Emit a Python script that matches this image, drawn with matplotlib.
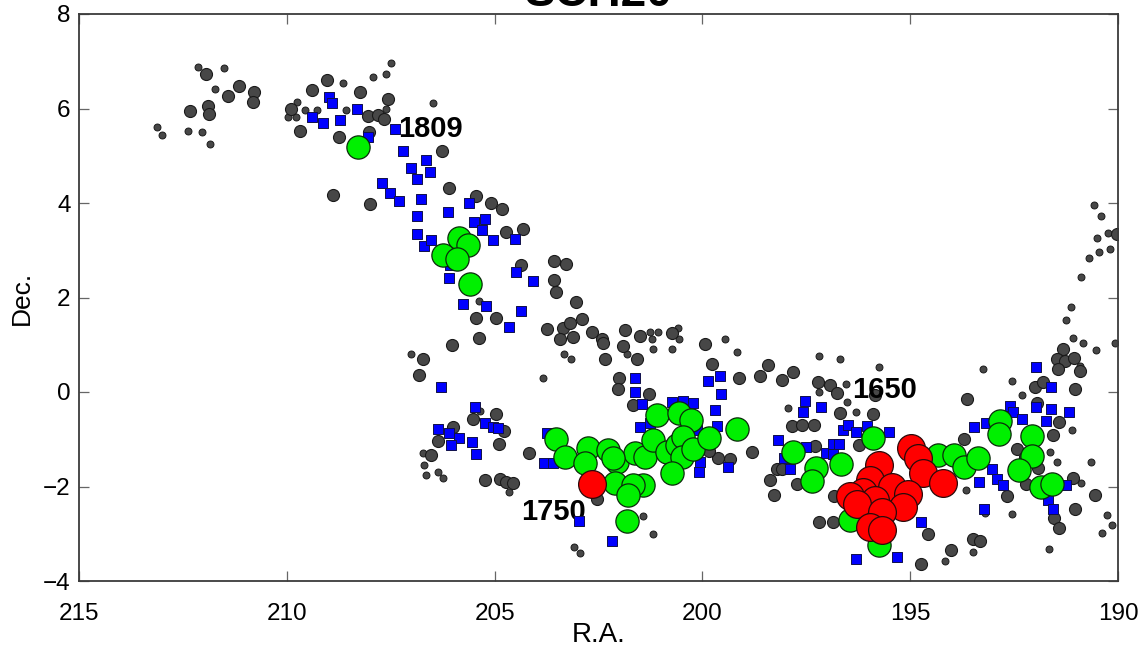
import matplotlib
matplotlib.use("Agg")
import matplotlib.pyplot as plt

plt.rcParams['font.family'] = ['Liberation Sans', 'DejaVu Sans']

# ---------------- data (R.A., Dec.) ----------------
grey_big_ra = [211.94, 211.15, 211.42, 210.79, 210.81, 212.33, 211.90, 211.87, 209.90, 209.68,
               209.39, 209.03, 208.24, 208.05, 207.81, 207.66, 207.57, 208.74, 208.02, 206.27,
               208.89, 208.00, 206.10, 205.45, 205.09, 204.82, 204.32, 204.73, 204.37, 203.57,
               203.28, 203.57, 203.52, 203.04, 205.45, 204.97, 205.38, 206.03, 206.72, 206.82,
               203.74, 203.35, 203.19, 202.89, 203.43, 203.11, 202.66, 202.42, 202.39, 201.86,
               201.50, 200.73, 202.35, 201.91, 201.57, 199.94, 199.77, 199.12, 198.61, 198.42,
               202.01, 202.03, 201.29, 204.97, 205.52, 206.00, 204.77, 206.36, 204.89, 206.53,
               205.23, 204.87, 204.73, 204.56, 204.17, 201.67, 199.34, 199.62, 198.81, 199.84,
               198.37, 198.28, 198.20, 202.54, 198.08, 197.82, 197.22, 196.93, 196.76,
               195.85, 196.69, 195.90, 197.84, 197.60, 197.31, 196.23, 197.29, 198.08, 197.72,
               196.83, 197.19, 196.86, 194.57, 194.74, 194.02, 193.49, 193.32, 192.67, 191.99,
               191.80, 193.63, 191.95, 191.42, 191.56, 192.43, 192.24, 191.92, 193.71, 192.21,
               191.08, 191.03, 191.54, 191.42, 190.55, 191.32, 191.47, 191.28, 191.06, 190.91,
               191.44, 191.03, 190.03]
grey_big_dec = [6.74, 6.47, 6.26, 6.34, 6.13, 5.94, 6.05, 5.88, 5.98, 5.52,
                6.39, 6.60, 6.34, 5.84, 5.86, 5.77, 6.20, 5.39, 5.50, 5.11,
                4.16, 3.97, 4.31, 4.14, 4.01, 3.87, 3.46, 3.38, 2.68, 2.77,
                2.70, 2.36, 2.11, 1.90, 1.56, 1.56, 1.14, 0.99, 0.69, 0.37,
                1.33, 1.35, 1.45, 1.54, 1.12, 1.16, 1.28, 1.12, 1.03, 1.31,
                1.18, 1.24, 0.69, 0.97, 0.69, 1.01, 0.59, 0.29, 0.33, 0.57,
                0.29, 0.06, -0.05, -0.47, -0.58, -0.75, -0.83, -1.04, -1.09, -1.34,
                -1.87, -1.85, -1.91, -1.93, -1.30, -0.28, -1.42, -1.40, -1.28, -1.25,
                -1.87, -2.17, -1.64, -2.27, 0.25, 0.42, 0.21, 0.14, -0.03,
                -0.07, -0.45, -0.47, -0.73, -0.70, -0.70, -1.13, -1.15, -1.64, -1.95,
                -2.20, -2.75, -2.75, -3.00, -3.64, -3.35, -3.12, -3.16, -2.21, 0.10,
                0.21, -0.15, -0.24, -0.64, -0.92, -1.21, -1.38, -1.60, -1.00, -1.95,
                -1.81, -2.48, -2.67, -2.88, -2.17, 0.92, 0.69, 0.65, 0.71, 0.44,
                0.48, 0.06, 3.34]

grey_small_ra = [212.14, 211.51, 211.73, 213.12, 213.00, 212.38, 212.04, 211.85, 209.97, 209.78,
                 209.75, 209.56, 209.27, 208.65, 208.58, 207.61, 207.93, 207.61, 207.49, 206.48,
                 205.38, 207.01, 203.83, 201.26, 201.07, 200.59, 200.56, 201.21, 201.19, 200.73,
                 203.33, 203.16, 201.81, 199.46, 199.17, 205.35, 206.72, 206.70, 206.36, 206.65,
                 206.24, 204.65, 201.43, 201.19, 203.09, 202.94, 197.20, 196.69, 195.75, 196.54,
                 197.20, 196.52, 196.30, 197.94, 193.66, 192.54, 193.20, 194.17, 193.49, 193.25,
                 192.54, 192.30, 191.11, 191.64, 191.47, 190.65, 190.89, 190.27, 190.39, 190.15,
                 191.66, 191.08, 190.84, 190.53, 190.07, 190.58, 190.41, 190.51, 190.24, 190.46,
                 190.19, 190.70, 190.89, 191.13, 191.25, 190.91]
grey_small_dec = [6.87, 6.85, 6.41, 5.60, 5.43, 5.52, 5.50, 5.24, 5.81, 5.81,
                  6.13, 5.96, 5.96, 6.53, 5.96, 5.98, 6.66, 6.74, 6.96, 6.11,
                  1.92, 0.80, 0.29, 1.28, 1.26, 1.35, 1.12, 1.12, 0.92, 0.92,
                  0.80, 0.69, 0.80, 1.12, 0.84, -0.41, -1.30, -1.55, -1.70, -1.76,
                  -1.83, -2.12, -2.63, -3.01, -3.29, -3.41, 0.76, 0.69, 0.52, 0.16,
                  0.01, -0.22, -0.43, -0.34, -2.08, -2.59, -2.57, -3.58, -3.39, 0.48,
                  0.23, -0.07, -0.81, -1.28, -1.49, -1.49, -1.93, -2.61, -2.99, -2.82,
                  -3.33, 1.14, 1.03, 0.88, 1.03, 3.95, 3.72, 3.25, 3.36, 2.96,
                  3.02, 2.83, 2.43, 1.79, 1.52, 0.56]

blue_ra = [208.99, 208.91, 208.31, 209.39, 209.13, 208.72, 207.40, 208.05, 207.20, 207.01,
           206.65, 206.55, 206.87, 207.71, 207.52, 207.30, 206.77, 206.87, 206.12, 205.62,
           205.50, 205.23, 205.30, 205.04, 206.87, 206.70, 206.53, 206.10, 206.07, 204.51,
           204.49, 204.08, 205.76, 205.21, 204.37, 204.65, 206.29, 201.62, 201.62, 199.86,
           199.58, 199.55, 205.47, 205.23, 205.04, 204.92, 206.36, 206.10, 205.86, 206.05,
           205.54, 205.45, 203.74, 203.81, 203.60, 201.45, 201.50, 201.26, 200.73, 200.47,
           200.23, 199.70, 200.13, 199.65, 200.06, 200.08, 199.38, 198.18, 202.97, 202.18,
           197.53, 197.58, 197.15, 198.04, 197.89, 197.51, 197.03, 196.86, 196.71, 196.86,
           196.62, 196.50, 196.30, 196.04, 195.51, 194.74, 195.32, 196.30, 191.97, 191.61,
           192.60, 192.53, 192.31, 191.97, 191.61, 191.18, 191.73, 193.47, 193.18, 193.03,
           193.34, 192.91, 192.77, 193.22, 191.25, 191.68, 191.56]
blue_dec = [6.24, 6.11, 6.00, 5.81, 5.69, 5.75, 5.56, 5.39, 5.11, 4.75,
            4.90, 4.65, 4.50, 4.42, 4.21, 4.04, 4.08, 3.72, 3.80, 3.99,
            3.59, 3.67, 3.42, 3.21, 3.34, 3.10, 3.21, 2.41, 2.68, 3.23,
            2.53, 2.34, 1.86, 1.83, 1.71, 1.37, 0.10, 0.29, -0.01, 0.23,
            0.33, -0.05, -0.32, -0.66, -0.75, -0.77, -0.79, -0.87, -0.98, -1.13,
            -1.06, -1.32, -0.87, -1.51, -1.51, -0.26, -0.75, -0.66, -0.22, -0.20,
            -0.24, -0.39, -0.81, -0.73, -1.49, -1.70, -1.59, -1.02, -2.72, -3.16,
            -0.20, -0.43, -0.32, -1.40, -1.62, -1.17, -1.30, -1.09, -1.09, -1.32,
            -0.81, -0.70, -0.85, -0.73, -0.85, -2.76, -3.50, -3.54, 0.52, 0.10,
            -0.30, -0.43, -0.58, -0.32, -0.37, -0.43, -0.62, -0.75, -0.66, -1.62,
            -1.91, -1.85, -1.97, -2.48, -1.97, -2.29, -2.48]

green_ra = [208.29, 205.86, 205.64, 206.24, 205.91, 205.59, 203.52, 203.31, 202.75, 202.83,
            202.27, 202.06, 201.62, 201.38, 201.09, 200.56, 200.28, 201.19, 200.85, 200.61,
            200.47, 200.49, 200.23, 199.84, 199.17, 200.73, 202.10, 201.43, 201.67, 201.79,
            201.81, 197.82, 197.27, 197.36, 196.67, 195.90, 196.45, 195.75, 194.33, 193.95,
            193.71, 193.37, 192.84, 192.87, 192.07, 192.07, 192.38, 191.85, 191.59, 202.15]
green_dec = [5.18, 3.25, 3.12, 2.89, 2.81, 2.28, -1.00, -1.38, -1.19, -1.51,
             -1.23, -1.49, -1.30, -1.38, -0.49, -0.45, -0.60, -1.02, -1.28, -1.13,
             -0.96, -1.38, -1.21, -0.98, -0.79, -1.72, -1.93, -1.97, -1.97, -2.19,
             -2.72, -1.28, -1.61, -1.89, -1.53, -0.98, -2.70, -3.24, -1.34, -1.34,
             -1.59, -1.40, -0.62, -0.89, -0.94, -1.36, -1.66, -2.02, -1.95, -1.40]

red_ra = [202.66, 194.98, 194.81, 195.75, 194.69, 194.21, 195.97, 195.44, 195.05, 196.14,
          196.45, 195.85, 196.28, 195.17, 195.68, 195.97, 195.68]
red_dec = [-1.95, -1.19, -1.40, -1.55, -1.72, -1.93, -1.87, -2.02, -2.15, -2.12,
           -2.20, -2.29, -2.36, -2.44, -2.55, -2.86, -2.93]

label_texts = ['1809', '1650', '1750']
label_ra = [206.55, 195.61, 203.59]
label_dec = [5.56, 0.04, -2.55]

x_ticks = [215, 210, 205, 200, 195, 190]
y_ticks = [-4, -2, 0, 2, 4, 6, 8]

# ---------------- figure ----------------
fig = plt.figure(figsize=(11.42, 6.52), dpi=100)
ax = fig.add_axes([79 / 1142, 1 - 581 / 652, 1039 / 1142, 567 / 652])

edge = '#1a1a1a'
ax.scatter(grey_small_ra, grey_small_dec, s=25, c='#474747', edgecolors=edge, linewidths=0.7, zorder=2)
ax.scatter(grey_big_ra, grey_big_dec, s=75, c='#474747', edgecolors=edge, linewidths=0.8, zorder=2)

for t, xr, yd in zip(label_texts, label_ra, label_dec):
    ax.text(xr, yd, t, ha='center', va='center', fontsize=21, fontweight='bold', zorder=2.5)

ax.scatter(blue_ra, blue_dec, s=44, marker='s', c='#0000ff', edgecolors='#10104a', linewidths=0.7, zorder=3)
ax.scatter(green_ra, green_dec, s=280, c='#00f000', edgecolors='#0a2a0a', linewidths=0.9, zorder=4)
ax.scatter(red_ra, red_dec, s=400, c='#ff0000', edgecolors='#2a0a0a', linewidths=0.9, zorder=5)

ax.set_xlim(215, 190)
ax.set_ylim(-4, 8)
ax.set_xticks(x_ticks)
ax.set_yticks(y_ticks)
ax.set_xticklabels([str(v) for v in x_ticks])
ax.set_yticklabels([str(v).replace('-', '\u2212') for v in y_ticks])

ax.tick_params(axis='both', direction='in', length=7, width=0.9, color='#666666',
               top=True, right=True, labelsize=17.5)
ax.tick_params(axis='x', pad=16)
ax.tick_params(axis='y', pad=6)
for sp in ax.spines.values():
    sp.set_color('#3a3a3a')
    sp.set_linewidth(1.3)

ax.set_xlabel('R.A.', fontsize=20)
ax.set_ylabel('Dec.', fontsize=19)
ax.xaxis.set_label_coords(0.5, (581 - 635) / 567)
ax.xaxis.label.set_va('center')
ax.yaxis.set_label_coords((22 - 79) / 1039, (581 - 298) / 567)
ax.yaxis.label.set_va('center')

fig.text(599 / 1142, 1 - 5.5 / 652, 'SCH20', ha='center', va='baseline',
         fontsize=33, fontweight='bold')

fig.savefig('out.png', dpi=100)
